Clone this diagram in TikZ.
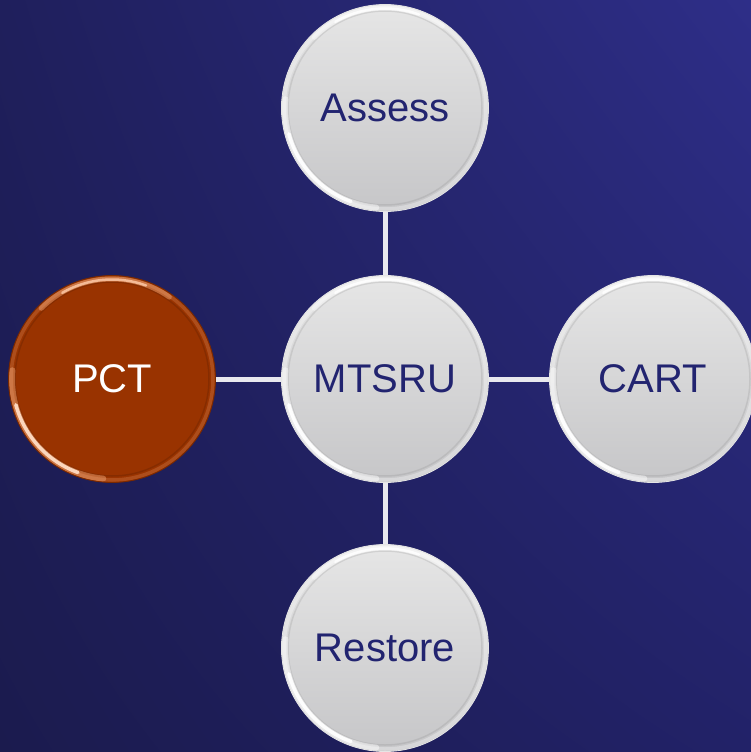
\documentclass[tikz,border=0pt]{standalone}
\usepackage{fontspec}
\setmainfont{Liberation Sans}
\usetikzlibrary{shadings}
\definecolor{bgUL}{HTML}{1F1F5C}
\definecolor{bgUR}{HTML}{2E2E88}
\definecolor{bgLL}{HTML}{1B1B4E}
\definecolor{bgLR}{HTML}{222268}
\definecolor{txt}{HTML}{222470}
\definecolor{ballTop}{HTML}{E6E6E6}
\definecolor{ballBot}{HTML}{C6C6C8}
\definecolor{pctFill}{HTML}{993300}
\definecolor{pctHi}{HTML}{FFB888}
\definecolor{linkc}{HTML}{E8E8EE}
\begin{document}
\begin{tikzpicture}[x=1pt,y=-1pt,
  ball/.style={circle, minimum size=207pt, inner sep=0pt,
    top color=ballTop, bottom color=ballBot, text=txt,
    font=\fontsize{40}{46}\selectfont,
    draw=white!80!gray, line width=0.8pt,
    path picture={
      \draw[gray, line width=1.5pt, opacity=0.2] (path picture bounding box.center) circle (97pt);
      \draw[white, line width=3.5pt, opacity=0.3] (path picture bounding box.center) circle (101pt);
      \draw[white, line width=6pt, line cap=round, opacity=0.45] (path picture bounding box.center) ++(175:100pt) arc (175:265:100pt);
      \draw[white, line width=3.5pt, line cap=round, opacity=0.95] (path picture bounding box.center) ++(195:99.5pt) arc (195:250:99.5pt);
      \draw[white, line width=5pt, line cap=round, opacity=0.4] (path picture bounding box.center) ++(55:100pt) arc (55:135:100pt);
      \draw[white, line width=2.5pt, line cap=round, opacity=0.85] (path picture bounding box.center) ++(70:99.5pt) arc (70:120:99.5pt);
    }},
  hotball/.style={circle, minimum size=207pt, inner sep=0pt,
    fill=pctFill, text=white,
    font=\fontsize{40}{46}\selectfont,
    draw=pctFill!80!black, line width=0.8pt,
    path picture={
      \draw[black, line width=1.5pt, opacity=0.12] (path picture bounding box.center) circle (97pt);
      \draw[pctHi, line width=3.5pt, opacity=0.2] (path picture bounding box.center) circle (101pt);
      \draw[pctHi, line width=6pt, line cap=round, opacity=0.4] (path picture bounding box.center) ++(175:100pt) arc (175:265:100pt);
      \draw[pctHi!50!white, line width=3.5pt, line cap=round, opacity=0.95] (path picture bounding box.center) ++(195:99.5pt) arc (195:250:99.5pt);
      \draw[pctHi, line width=5pt, line cap=round, opacity=0.4] (path picture bounding box.center) ++(55:100pt) arc (55:135:100pt);
      \draw[pctHi!70!white, line width=2.5pt, line cap=round, opacity=0.8] (path picture bounding box.center) ++(70:99.5pt) arc (70:120:99.5pt);
    }},
  link/.style={draw=linkc, line width=5pt}
]
\useasboundingbox (0,0) rectangle (751,752);
\shade[upper left=bgUL, upper right=bgUR, lower left=bgLL, lower right=bgLR] (0,0) rectangle (751,752);

\node[ball] (m) at (385,379) {MTSRU};
\node[ball] (a) at (385,108) {Assess};
\node[ball] (c) at (653,379) {CART};
\node[ball] (r) at (385,648) {Restore};
\node[hotball] (p) at (112,379) {PCT};

\draw[link] (m.north) -- (a.south);
\draw[link] (m.south) -- (r.north);
\draw[link] (m.east) -- (c.west);
\draw[link] (m.west) -- (p.east);
\end{tikzpicture}
\end{document}
